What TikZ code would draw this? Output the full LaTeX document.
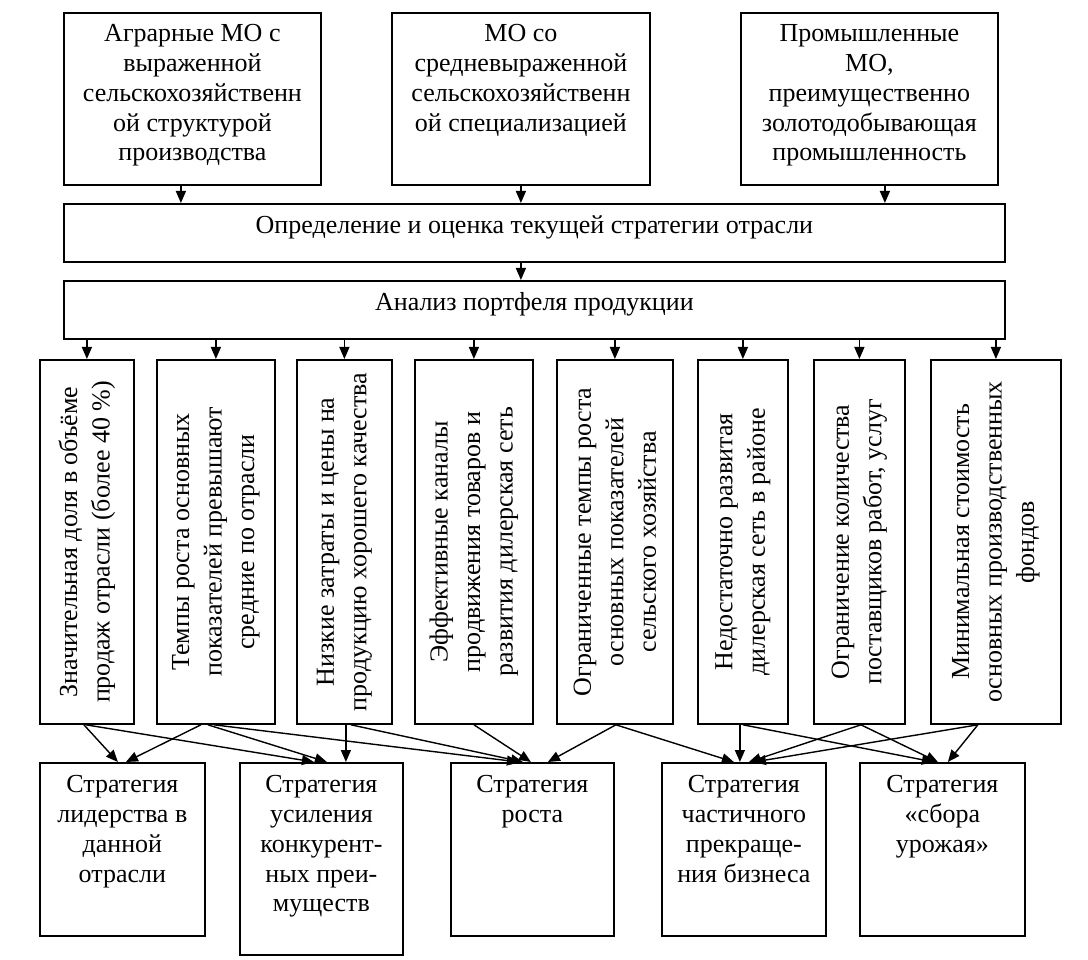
\documentclass[tikz,border=0pt]{standalone}
\usepackage{fontspec}
\setmainfont{Liberation Serif}
\usetikzlibrary{arrows.meta}
\begin{document}
\begin{tikzpicture}[x=1pt,y=-1pt,
  box/.style={draw, line width=1.8pt, inner sep=0pt, anchor=north west},
  htext/.style={font=\fontsize{26}{29.7}\selectfont, align=center, inner sep=0pt},
  vtext/.style={font=\fontsize{26}{32.5}\selectfont, align=center, inner sep=0pt, rotate=90},
  arr/.style={-{Triangle[length=12pt,width=10pt]}, line width=1.4pt}]
\useasboundingbox (0,0) rectangle (1088,960);

% top boxes
\node[box, minimum width=257pt, minimum height=172pt] (A) at (63,12) {};
\node[box, minimum width=258pt, minimum height=172pt] (B) at (391,12) {};
\node[box, minimum width=257pt, minimum height=172pt] (C) at (740,12) {};
\node[htext, anchor=north] (At) at ([yshift=-9pt]A.north) {\strut Аграрные МО с\\выраженной\\сельскохозяйственн\\ой структурой\\производства};
\node[htext, anchor=north] (Bt) at ([yshift=-9pt]B.north) {\strut МО со\\средневыраженной\\сельскохозяйственн\\ой специализацией};
\node[htext, anchor=north] (Ct) at ([yshift=-9pt]C.north) {\strut Промышленные\\МО,\\преимущественно\\золотодобывающая\\промышленность};

% wide boxes
\node[box, minimum width=941pt, minimum height=58pt] (O) at (63,203) {};
\node[box, minimum width=941pt, minimum height=58pt] (P) at (63,280) {};
\node[htext, anchor=base] (Ot) at ([yshift=-31pt]O.north) {Определение и оценка текущей стратегии отрасли};
\node[htext, anchor=base] (Pt) at ([yshift=-31pt]P.north) {Анализ портфеля продукции};

% vertical boxes
\node[box, minimum width=94pt,  minimum height=364pt] (v1) at (39,359) {};
\node[box, minimum width=118pt, minimum height=364pt] (v2) at (156,359) {};
\node[box, minimum width=95pt,  minimum height=364pt] (v3) at (296,359) {};
\node[box, minimum width=118pt, minimum height=364pt] (v4) at (414,359) {};
\node[box, minimum width=116pt, minimum height=364pt] (v5) at (556,359) {};
\node[box, minimum width=90pt,  minimum height=364pt] (v6) at (697,359) {};
\node[box, minimum width=91pt,  minimum height=364pt] (v7) at (813,359) {};
\node[box, minimum width=130pt, minimum height=364pt] (v8) at (930,359) {};
\node[vtext] (v1t) at (v1.center) {Значительная доля в объёме\\продаж отрасли (более 40~\%)};
\node[vtext] (v2t) at (v2.center) {Темпы роста основных\\показателей превышают\\средние по отрасли};
\node[vtext] (v3t) at (v3.center) {Низкие затраты и цены на\\продукцию хорошего качества};
\node[vtext] (v4t) at (v4.center) {Эффективные каналы\\продвижения товаров и\\развития дилерская сеть};
\node[vtext] (v5t) at (v5.center) {Ограниченные темпы роста\\основных показателей\\сельского хозяйства};
\node[vtext] (v6t) at (v6.center) {Недостаточно развитая\\дилерская сеть в районе};
\node[vtext] (v7t) at (v7.center) {Ограничение количества\\поставщиков работ, услуг};
\node[vtext] (v8t) at (v8.center) {Минимальная стоимость\\основных производственных\\фондов};

% bottom boxes
\node[box, minimum width=165pt, minimum height=173pt] (s1) at (39,762) {};
\node[box, minimum width=163pt, minimum height=192pt] (s2) at (239,762) {};
\node[box, minimum width=163pt, minimum height=173pt] (s3) at (450,762) {};
\node[box, minimum width=164pt, minimum height=173pt] (s4) at (661,762) {};
\node[box, minimum width=165pt, minimum height=173pt] (s5) at (859,762) {};
\node[htext, anchor=north] (s1t) at ([yshift=-10pt]s1.north) {\strut Стратегия\\лидерства в\\данной\\отрасли};
\node[htext, anchor=north] (s2t) at ([yshift=-10pt]s2.north) {\strut Стратегия\\усиления\\конкурент-\\ных преи-\\муществ};
\node[htext, anchor=north] (s3t) at ([yshift=-10pt]s3.north) {\strut Стратегия\\роста};
\node[htext, anchor=north] (s4t) at ([yshift=-10pt]s4.north) {\strut Стратегия\\частичного\\прекраще-\\ния бизнеса};
\node[htext, anchor=north] (s5t) at ([yshift=-10pt]s5.north) {\strut Стратегия\\«сбора\\урожая»};

% top arrows
\draw[arr] ([xshift=-11.5pt]A.south) -- ([xshift=-11.5pt]A.south |- O.north);
\draw[arr] (B.south) -- (B.south |- O.north);
\draw[arr] ([xshift=15.5pt]C.south) -- ([xshift=15.5pt]C.south |- O.north);
\draw[arr] ([xshift=-13.5pt]O.south) -- ([xshift=-13.5pt]O.south |- P.north);
\foreach \i in {1,...,8} {
  \draw[arr] (v\i.north |- P.south) -- (v\i.north);
}

% bottom connectors
\draw[arr] ([xshift=-3pt]v1.south) -- ([xshift=-4.5pt]s1.north);
\draw[arr] ([xshift=-1pt]v1.south) -- ([xshift=-7.5pt]s2.north);
\draw[arr] ([xshift=-15pt]v2.south) -- ([xshift=3.5pt]s1.north);
\draw[arr] ([xshift=-8pt]v2.south) -- ([xshift=5.5pt]s2.north);
\draw[arr] ([xshift=-2pt]v2.south) -- ([xshift=-13.5pt]s3.north);
\draw[arr] ([xshift=1.5pt]v3.south) -- ([xshift=24.5pt]s2.north);
\draw[arr] ([xshift=6.5pt]v3.south) -- ([xshift=-9.5pt]s3.north);
\draw[arr] (v4.south) -- ([xshift=-1.5pt]s3.north);
\draw[arr] ([xshift=1pt]v5.south) -- ([xshift=15.5pt]s3.north);
\draw[arr] ([xshift=1pt]v5.south) -- ([xshift=-10pt]s4.north);
\draw[arr] ([xshift=-3pt]v6.south) -- ([xshift=-4pt]s4.north);
\draw[arr] (v6.south) -- ([xshift=-8.5pt]s5.north);
\draw[arr] ([xshift=1.5pt]v7.south) -- ([xshift=5pt]s4.north);
\draw[arr] ([xshift=1.5pt]v7.south) -- ([xshift=-4.5pt]s5.north);
\draw[arr] ([xshift=-18pt]v8.south) -- ([xshift=10pt]s4.north);
\draw[arr] ([xshift=-18pt]v8.south) -- ([xshift=5.5pt]s5.north);
\end{tikzpicture}
\end{document}
